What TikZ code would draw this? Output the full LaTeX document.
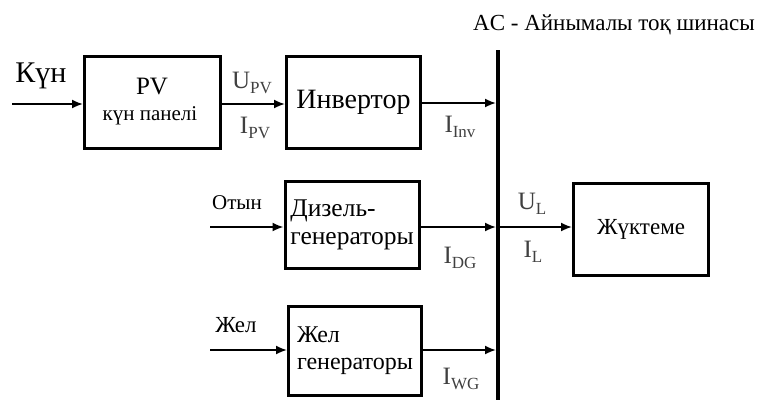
\documentclass[tikz,border=0pt]{standalone}
\usepackage{fontspec}
\setmainfont{Liberation Serif}
\usetikzlibrary{arrows.meta}
\newcommand\subtx[1]{\raisebox{-0.4ex}{\fontsize{17pt}{17pt}\selectfont #1}}
\begin{document}
\begin{tikzpicture}[x=1pt,y=-1pt,
  blk/.style={draw, line width=3pt, inner sep=0pt, anchor=center, align=center},
  arr/.style={line width=1.8pt, -{Latex[length=11pt,width=9pt]}},
  lbl/.style={inner sep=0pt, anchor=center, font=\fontsize{25pt}{25pt}\selectfont, text=black!75},
  inlbl/.style={inner sep=0pt, anchor=center},
  txt/.style={inner sep=0pt, anchor=center},
]
\useasboundingbox (0,0) rectangle (763,399);
% blocks
\node[blk, minimum width=136pt, minimum height=92pt] (pv) at (152.5,102.5) {};
\node[txt, font=\fontsize{25pt}{25pt}\selectfont] (pvt) at (152,87) {PV};
\node[txt, font=\fontsize{21pt}{21pt}\selectfont] (pvs) at (150,116) {күн панелі};
\node[blk, minimum width=134pt, minimum height=92pt, font=\fontsize{28pt}{28pt}\selectfont] (inv) at (353.5,102.5) {Инвертор};
\node[blk, minimum width=134pt, minimum height=87pt, align=left, font=\fontsize{25.5pt}{28pt}\selectfont] (dg) at (352,225) {Дизель-\\генераторы};
\node[blk, minimum width=133pt, minimum height=89pt, align=left, font=\fontsize{24pt}{27pt}\selectfont] (wg) at (355,351) {Жел\\генераторы};
\node[blk, minimum width=135pt, minimum height=92pt, font=\fontsize{23pt}{23pt}\selectfont] (load) at (641,229.5) {Жүктеме};
% bus
\coordinate (bt) at (498,50);
\coordinate (bb) at (498,402);
\draw[line width=4pt] (bt) -- (bb);
\node[txt, font=\fontsize{23pt}{23pt}\selectfont] (title) at (614,25) {AC - Айнымалы тоқ шинасы};
% inputs
\coordinate (kin) at (12,104);
\coordinate (oin) at (210,227);
\coordinate (jin) at (210,350);
\draw[arr] (kin) -- (kin -| pv.west);
\draw[arr] (oin) -- (oin -| dg.west);
\draw[arr] (jin) -- (jin -| wg.west);
\node[txt, font=\fontsize{30pt}{30pt}\selectfont] (kun) at (41,76) {Күн};
\node[inlbl, font=\fontsize{21pt}{21pt}\selectfont] (otyn) at (237,203) {Отын};
\node[inlbl, font=\fontsize{23pt}{23pt}\selectfont] (jel) at (236,325) {Жел};
% links
\coordinate (pvo) at (222,104);
\draw[arr] (pvo) -- (pvo -| inv.west);
\coordinate (invo) at (422,103);
\draw[arr] (invo) -- ([xshift=-2pt]invo -| bt);
\coordinate (dgo) at (420,227);
\draw[arr] (dgo) -- ([xshift=-2pt]dgo -| bt);
\coordinate (wgo) at (423,350);
\draw[arr] (wgo) -- ([xshift=-2pt]wgo -| bt);
\coordinate (lo) at (498,227);
\draw[arr] (lo) -- (lo -| load.west);
% labels
\node[lbl] (upv) at (252,83) {U\subtx{PV}};
\node[lbl] (ipv) at (255,128) {I\subtx{PV}};
\node[lbl] (iinv) at (460,127) {I\subtx{Inv}};
\node[lbl] (idg) at (460,258) {I\subtx{DG}};
\node[lbl] (iwg) at (461,379) {I\subtx{WG}};
\node[lbl] (ul) at (532,204) {U\subtx{L}};
\node[lbl] (il) at (533,252) {I\subtx{L}};
\end{tikzpicture}
\end{document}
